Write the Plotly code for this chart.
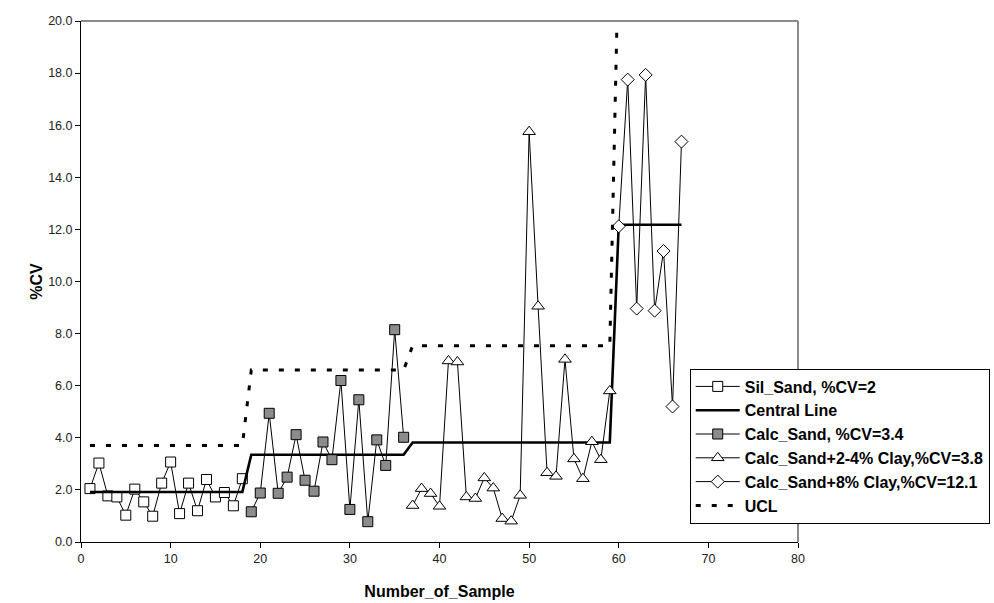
import plotly.graph_objects as go

# ---- data ----
sil_x = list(range(1, 19))
sil_y = [2.05, 3.03, 1.77, 1.73, 1.03, 2.03, 1.54, 0.99, 2.26, 3.07, 1.09, 2.26, 1.2, 2.4, 1.73, 1.9, 1.39, 2.43]

calc_x = list(range(19, 37))
calc_y = [1.16, 1.88, 4.94, 1.87, 2.49, 4.12, 2.37, 1.95, 3.84, 3.16, 6.2, 1.25, 5.46, 0.78, 3.92, 2.94, 8.15, 4.02]

clay4_x = list(range(37, 60))
clay4_y = [1.4, 2.05, 1.86, 1.37, 6.95, 6.91, 1.73, 1.67, 2.46, 2.07, 0.9, 0.8, 1.79, 15.75, 9.05,
           2.66, 2.52, 7.01, 3.19, 2.43, 3.85, 3.16, 5.8]

clay8_x = list(range(60, 68))
clay8_y = [12.12, 17.75, 8.96, 17.93, 8.88, 11.17, 5.2, 15.37]

group_x = [sil_x, calc_x, clay4_x, clay8_x]
central_vals = [1.92, 3.35, 3.82, 12.18]
ucl_vals = [3.7, 6.6, 7.53, 23.0]

cl_x, cl_y, ucl_x, ucl_y = [], [], [], []
for xs, c, u in zip(group_x, central_vals, ucl_vals):
    cl_x += xs
    cl_y += [c] * len(xs)
    ucl_x += xs
    ucl_y += [u] * len(xs)

x_ticks = list(range(0, 81, 10))
y_ticks = [0, 2, 4, 6, 8, 10, 12, 14, 16, 18, 20]

FONT = "Liberation Sans, Arial, sans-serif"

fig = go.Figure()

fig.add_trace(go.Scatter(
    x=sil_x, y=sil_y, mode="lines+markers", name="Sil_Sand, %CV=2",
    line=dict(color="black", width=1),
    marker=dict(symbol="square", size=10, color="white", line=dict(color="black", width=1))))

fig.add_trace(go.Scatter(
    x=cl_x, y=cl_y, mode="lines", name="Central Line",
    line=dict(color="black", width=2.6)))

fig.add_trace(go.Scatter(
    x=calc_x, y=calc_y, mode="lines+markers", name="Calc_Sand, %CV=3.4",
    line=dict(color="black", width=1),
    marker=dict(symbol="square", size=10, color="#8c8c8c", line=dict(color="black", width=1))))

fig.add_trace(go.Scatter(
    x=clay4_x, y=clay4_y, mode="lines+markers", name="Calc_Sand+2-4% Clay,%CV=3.8",
    line=dict(color="black", width=1),
    marker=dict(symbol="triangle-up", size=11, color="white", line=dict(color="black", width=1))))

fig.add_trace(go.Scatter(
    x=clay8_x, y=clay8_y, mode="lines+markers", name="Calc_Sand+8% Clay,%CV=12.1",
    line=dict(color="black", width=1),
    marker=dict(symbol="diamond", size=10, color="white", line=dict(color="black", width=1))))

fig.add_trace(go.Scatter(
    x=ucl_x, y=ucl_y, mode="lines", name="UCL",
    line=dict(color="black", width=3, dash="5px,11px")))

# gray top/right frame
fig.add_shape(type="line", xref="paper", yref="paper", x0=0, x1=1, y0=1, y1=1,
              line=dict(color="#8a8a8a", width=2))
fig.add_shape(type="line", xref="paper", yref="paper", x0=1, x1=1, y0=0, y1=1,
              line=dict(color="#8a8a8a", width=2))

fig.update_layout(
    width=994, height=603,
    margin=dict(l=81, r=196, t=21, b=61, autoexpand=False),
    paper_bgcolor="white", plot_bgcolor="white",
    font=dict(family=FONT, size=12, color="black"),
    showlegend=True,
    legend=dict(
        x=0.849, y=0.333, xanchor="left", yanchor="top",
        bgcolor="white", bordercolor="black", borderwidth=1,
        font=dict(family=FONT, size=16, color="black", weight="bold"),
        tracegroupgap=0, itemwidth=44,
    ),
    xaxis=dict(
        range=[0, 80], tickvals=x_ticks, ticktext=[str(v) for v in x_ticks],
        showgrid=False, zeroline=False, showline=True, linecolor="black", linewidth=1,
        ticks="outside", ticklen=5, tickcolor="black", automargin=False,
        tickfont=dict(family=FONT, size=12.5, color="#222"),
        title=dict(text="Number_of_Sample", font=dict(family=FONT, size=16, color="black", weight="bold"),
                   standoff=20),
    ),
    yaxis=dict(
        range=[0, 20], tickvals=y_ticks, ticktext=[f"{v:.1f}" for v in y_ticks],
        showgrid=False, zeroline=False, showline=True, linecolor="black", linewidth=1,
        ticks="outside", ticklen=5, tickcolor="black", automargin=False,
        tickfont=dict(family=FONT, size=12.5, color="#222"),
        title=dict(text="%CV", font=dict(family=FONT, size=16, color="black", weight="bold"),
                   standoff=1),
    ),
)

fig.write_html("out.html")
